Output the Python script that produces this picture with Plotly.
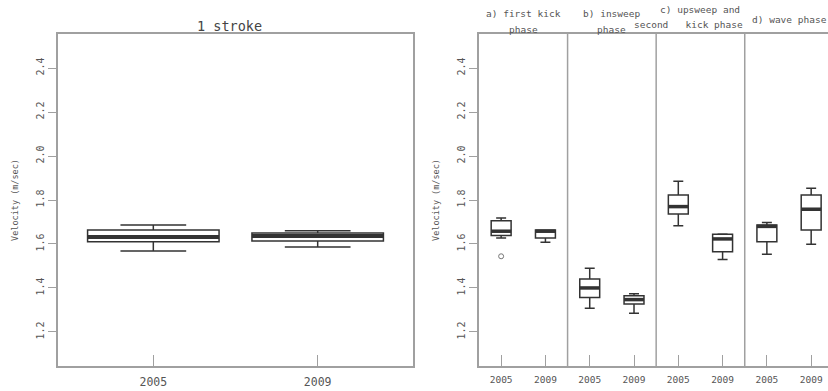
import plotly.graph_objects as go

# ---- data ----
years = ["2005", "2009"]

stroke_lower = [1.568, 1.586]
stroke_q1 = [1.610, 1.614]
stroke_median = [1.632, 1.636]
stroke_q3 = [1.664, 1.650]
stroke_upper = [1.686, 1.660]

phase_line1 = ["a) first kick", "b) insweep", "c) upsweep and", "d) wave phase"]
phase_line2 = ["phase", "phase", "second\u00a0\u00a0\u00a0kick phase", ""]
phase_lower = [1.627, 1.608, 1.308, 1.285, 1.683, 1.529, 1.553, 1.599]
phase_q1 = [1.638, 1.627, 1.356, 1.327, 1.736, 1.565, 1.610, 1.664]
phase_median = [1.658, 1.658, 1.400, 1.347, 1.770, 1.623, 1.680, 1.758]
phase_q3 = [1.706, 1.664, 1.441, 1.364, 1.823, 1.644, 1.686, 1.823]
phase_upper = [1.718, 1.664, 1.490, 1.374, 1.885, 1.645, 1.698, 1.853]
outlier_box = [0]          # index of box (right panel)
outlier_value = [1.544]

y_ticks = [1.2, 1.4, 1.6, 1.8, 2.0, 2.2, 2.4]
y_range = [1.045, 2.555]

W, H = 828, 391
FONT = "DejaVu Sans Mono"
FRAME = "#a0a0a0"
BOX = "#333333"
TXT = "#555555"

fig = go.Figure()

# ---- left panel ----
pos_left = [i + 1 for i in range(len(years))]
wl = 0.8
fig.add_trace(go.Box(x=pos_left, q1=stroke_q1, median=stroke_median, q3=stroke_q3,
                     lowerfence=stroke_lower, upperfence=stroke_upper,
                     width=wl, whiskerwidth=0.5, fillcolor="white",
                     line=dict(color=BOX, width=1.5), xaxis="x", yaxis="y",
                     boxpoints=False, showlegend=False, hoverinfo="skip"))
mx, my = [], []
for p, m in zip(pos_left, stroke_median):
    mx += [p - wl / 2, p + wl / 2, None]
    my += [m, m, None]
fig.add_trace(go.Scatter(x=mx, y=my, mode="lines", line=dict(color=BOX, width=4),
                         xaxis="x", yaxis="y", showlegend=False, hoverinfo="skip"))

# ---- right panel ----
n_ph = len(phase_line1)
ny = len(years)
pos_right = [g * ny + k + 1 for g in range(n_ph) for k in range(ny)]
labels_right = [years[k] for g in range(n_ph) for k in range(ny)]
wr = 0.45
fig.add_trace(go.Box(x=pos_right, q1=phase_q1, median=phase_median, q3=phase_q3,
                     lowerfence=phase_lower, upperfence=phase_upper,
                     width=wr, whiskerwidth=0.5, fillcolor="white",
                     line=dict(color=BOX, width=1.5), xaxis="x2", yaxis="y2",
                     boxpoints=False, showlegend=False, hoverinfo="skip"))
mx, my = [], []
for p, m in zip(pos_right, phase_median):
    mx += [p - wr / 2, p + wr / 2, None]
    my += [m, m, None]
fig.add_trace(go.Scatter(x=mx, y=my, mode="lines", line=dict(color=BOX, width=3.5),
                         xaxis="x2", yaxis="y2", showlegend=False, hoverinfo="skip"))
fig.add_trace(go.Scatter(x=[pos_right[i] for i in outlier_box], y=outlier_value,
                         mode="markers",
                         marker=dict(symbol="circle-open", size=5, color="#777777",
                                     line=dict(width=1)),
                         xaxis="x2", yaxis="y2", showlegend=False, hoverinfo="skip"))

# dividers between phases
for g in range(1, n_ph):
    xdiv = g * ny + 0.5
    fig.add_shape(type="line", xref="x2", yref="y2 domain", x0=xdiv, x1=xdiv, y0=0, y1=1,
                  line=dict(color=FRAME, width=1.5))

# phase titles
tfont = dict(family=FONT, size=9.5, color=TXT)
for g in range(n_ph):
    center = g * ny + 1.5
    if phase_line2[g]:
        y1, y2 = (10, 25) if g == 2 else (14, 29)
        fig.add_annotation(text=phase_line1[g], x=center, xref="x2", y=1 - y1 / H, yref="paper",
                           showarrow=False, font=tfont, xanchor="center", yanchor="middle")
        if g == 2:
            fig.add_annotation(text=phase_line2[g], x=(g + 1) * ny + 0.5, xref="x2",
                               y=1 - y2 / H, yref="paper", showarrow=False, font=tfont,
                               xanchor="right", yanchor="middle")
        else:
            fig.add_annotation(text=phase_line2[g], x=center, xref="x2", y=1 - y2 / H,
                               yref="paper", showarrow=False, font=tfont,
                               xanchor="center", yanchor="middle")
    else:
        fig.add_annotation(text=phase_line1[g], x=center, xref="x2", y=1 - 20 / H, yref="paper",
                           showarrow=False, font=tfont, xanchor="center", yanchor="middle")

# left title
fig.add_annotation(text="1 stroke", x=229 / W, xref="paper", y=1 - 26 / H,
                   yref="paper", showarrow=False,
                   font=dict(family=FONT, size=13.5, color="#444444"),
                   xanchor="center", yanchor="middle")

ydom = [(H - 366) / H, (H - 34) / H]
yax = dict(range=y_range, tickvals=y_ticks, ticktext=[f"{v:.1f}" for v in y_ticks],
           tickangle=-90, ticks="outside", ticklen=8, tickcolor=FRAME, tickwidth=1,
           showline=True, linecolor=FRAME, linewidth=1.5, showgrid=False, zeroline=False,
           tickfont=dict(family=FONT, size=10, color=TXT),
           title=dict(text="Velocity (m/sec)", font=dict(family=FONT, size=8.5, color=TXT),
                      standoff=15),
           domain=ydom, fixedrange=True)

fig.update_layout(
    width=W, height=H,
    margin=dict(l=0, r=0, t=0, b=0, autoexpand=False),
    paper_bgcolor="white", plot_bgcolor="white",
    showlegend=False,
    xaxis=dict(domain=[58 / W, 413 / W], range=[0.42, 2.58], tickvals=pos_left,
               ticktext=years, ticks="inside", ticklen=11, tickcolor=FRAME,
               showline=True, mirror=True, linecolor=FRAME, linewidth=1.5,
               showgrid=False, zeroline=False, anchor="y",
               tickfont=dict(family=FONT, size=11.5, color=TXT), ticklabelstandoff=4),
    yaxis=dict(yax, anchor="x", mirror=True),
    xaxis2=dict(domain=[479 / W, 1.0], range=[0.5, 8.38], tickvals=pos_right,
                ticktext=labels_right, ticks="inside", ticklen=11, tickcolor=FRAME,
                showline=True, mirror=True, linecolor=FRAME, linewidth=1.5,
                showgrid=False, zeroline=False, anchor="y2",
                tickfont=dict(family=FONT, size=9.5, color=TXT), ticklabelstandoff=4),
    yaxis2=dict(yax, anchor="x2"),
)

fig.write_html("out.html")
